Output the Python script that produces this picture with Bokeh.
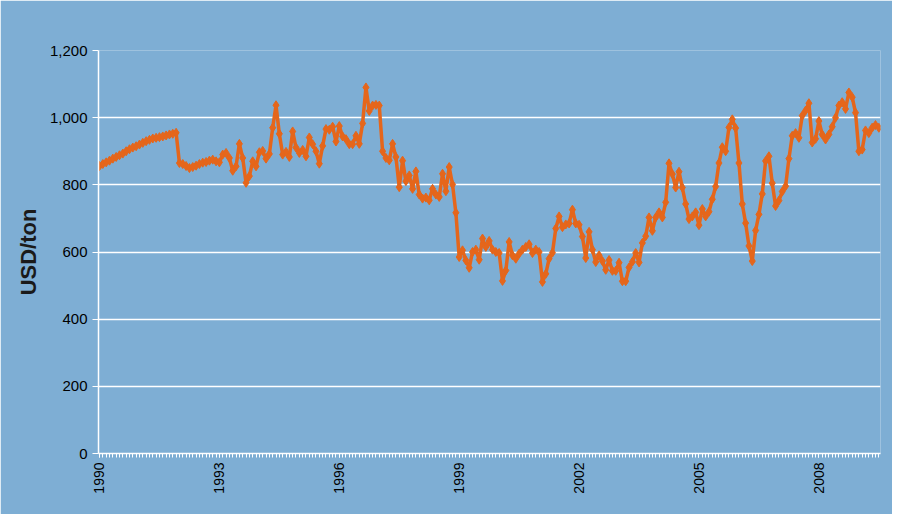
import math
from bokeh.plotting import figure
from bokeh.models import Range1d, FixedTicker, NumeralTickFormatter, ColumnDataSource
from bokeh.embed import file_html
from bokeh.resources import INLINE

# Monthly price, USD/ton, January 1990 onwards
usd_per_ton = [
    856, 862, 867, 872, 878, 883, 888, 893, 900, 906, 911, 915,
    920, 925, 930, 934, 938, 940, 942, 944, 947, 950, 952, 955,
    865, 862, 856, 850, 853, 857, 862, 866, 868, 872, 875, 870,
    867, 890, 895, 880, 842, 855, 922, 880, 806, 826, 870, 855,
    897, 901, 878, 892, 970, 1037, 952, 890, 898, 883, 959, 911,
    895, 904, 885, 941, 921, 900, 863, 916, 966, 964, 973, 929,
    975, 944, 936, 921, 921, 946, 922, 983, 1090, 1020, 1036, 1038,
    1036, 900, 880, 873, 922, 883, 793, 872, 811, 828, 788, 840,
    771, 759, 762, 754, 788, 771, 764, 833, 781, 853, 801, 717,
    585, 605, 575, 553, 600, 607, 577, 640, 615, 633, 607, 600,
    597, 514, 545, 630, 590, 580, 595, 607, 615, 623, 597, 607,
    600, 511, 535, 580, 598, 670, 706, 674, 682, 685, 726, 685,
    681, 646, 582, 660, 607, 570, 590, 573, 547, 576, 544, 544,
    568, 513, 513, 554, 571, 597, 569, 627, 647, 703, 663, 703,
    718, 703, 748, 864, 832, 792, 839, 792, 743, 698, 706, 718,
    680, 728, 706, 720, 757, 795, 865, 912, 900, 971, 995, 969,
    865, 743, 686, 618, 573, 664, 712, 773, 871, 885, 805, 737,
    753, 780, 796, 878, 946, 954, 940, 1006, 1021, 1043, 926, 937,
    990, 950, 935, 950, 973, 1000, 1036, 1046, 1026, 1075, 1061, 1015,
    900, 905, 962, 954, 970, 978, 970,
]
start_year = 1990
year_labels = ["1990", "1993", "1996", "1999", "2002", "2005", "2008"]
y_ticks = [0, 200, 400, 600, 800, 1000, 1200]
y_title = "USD/ton"

month_index = list(range(len(usd_per_ton)))
src = ColumnDataSource(data=dict(x=month_index, y=usd_per_ton))

BG = "#7EAED4"
ORANGE = "#E5661B"
FONT = "Liberation Sans"

p = figure(width=892, height=514, output_backend="svg", toolbar_location=None,
           x_range=Range1d(-0.3, len(usd_per_ton) - 0.5), y_range=Range1d(0, 1200),
           min_border_left=98, min_border_right=12, min_border_top=50, min_border_bottom=61)
p.background_fill_color = BG
p.border_fill_color = BG
p.outline_line_color = None

p.line("x", "y", source=src, line_color=ORANGE, line_width=3.5)
p.scatter("x", "y", source=src, marker="diamond", size=9,
          fill_color=ORANGE, line_color=ORANGE)

# Y axis
p.yaxis.ticker = FixedTicker(ticks=y_ticks)
p.yaxis.formatter = NumeralTickFormatter(format="0,0")
p.yaxis.axis_line_color = "white"
p.yaxis.axis_line_width = 1.5
p.yaxis.major_tick_line_color = "white"
p.yaxis.major_tick_in = 0
p.yaxis.major_tick_out = 6
p.yaxis.minor_tick_line_color = None
p.yaxis.major_label_text_font = FONT
p.yaxis.major_label_text_font_size = "15px"
p.yaxis.major_label_text_color = "#000000"
p.yaxis.major_label_standoff = 5
p.yaxis.axis_label = y_title
p.yaxis.axis_label_text_font = FONT
p.yaxis.axis_label_text_font_style = "bold"
p.yaxis.axis_label_text_font_size = "22px"
p.yaxis.axis_label_text_color = "#1a1a1a"
p.yaxis.axis_label_standoff = 6

# X axis
label_pos = [(int(y) - start_year) * 12 for y in year_labels]
p.xaxis.ticker = FixedTicker(ticks=label_pos, minor_ticks=month_index)
p.xaxis.major_label_overrides = {pos: lab for pos, lab in zip(label_pos, year_labels)}
p.xaxis.major_label_orientation = math.pi / 2
p.xaxis.axis_line_color = "white"
p.xaxis.axis_line_width = 1.5
p.xaxis.major_tick_line_color = "white"
p.xaxis.major_tick_in = 0
p.xaxis.major_tick_out = 4
p.xaxis.minor_tick_line_color = "white"
p.xaxis.minor_tick_in = 0
p.xaxis.minor_tick_out = 4
p.xaxis.major_label_text_font = FONT
p.xaxis.major_label_text_font_size = "14px"
p.xaxis.major_label_text_color = "#000000"
p.xaxis.major_label_standoff = 5

p.xgrid.visible = False
p.ygrid.ticker = FixedTicker(ticks=y_ticks)
p.ygrid.grid_line_color = "white"
p.ygrid.grid_line_width = 1.5

open("out.html", "w").write(file_html(p, INLINE))
